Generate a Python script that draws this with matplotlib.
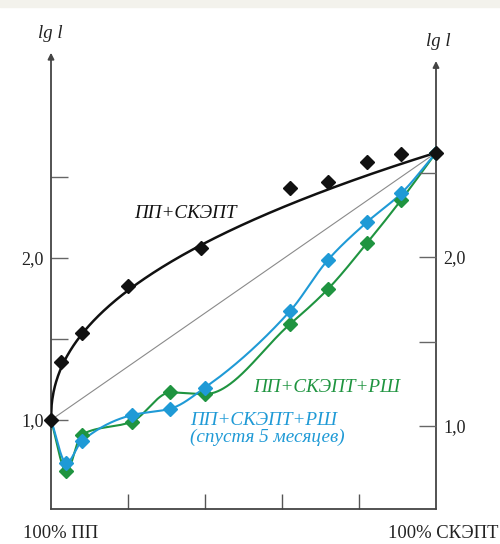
import numpy as np
import matplotlib
matplotlib.use("Agg")
import matplotlib.pyplot as plt
from matplotlib.patches import Rectangle

plt.rcParams['font.family'] = ['Liberation Serif', 'DejaVu Serif']

# ---- data (x: % SKEPT in blend, y: lg l) ----
x_black = [0, 2.6, 8, 20, 39, 62, 72, 82, 91, 100]
y_black = [1.0, 1.36, 1.54, 1.83, 2.06, 2.43, 2.47, 2.59, 2.64, 2.65]

x_blue = [0, 4, 8, 21, 31, 40, 62, 72, 82, 91, 100]
y_blue = [1.0, 0.735, 0.87, 1.03, 1.07, 1.20, 1.67, 1.99, 2.22, 2.40, 2.65]

x_green = [0, 4, 8, 21, 31, 40, 62, 72, 82, 91, 100]
y_green = [1.0, 0.685, 0.91, 0.99, 1.17, 1.16, 1.59, 1.81, 2.09, 2.36, 2.65]

black_curve_exponent = 0.45

left_ticks = [1.0, 1.5, 2.0, 2.5]
left_ticklabels = ['1,0', '', '2,0', '']
right_ticks = [1.0, 1.5, 2.0, 2.5]
right_ticklabels = ['1,0', '', '2,0', '']
x_ticks = [20, 40, 60, 80]

label_black = 'ПП+СКЭПТ'
label_green = 'ПП+СКЭПТ+РШ'
label_blue = 'ПП+СКЭПТ+РШ\n(спустя 5 месяцев)'

C_BLACK = '#111111'
C_BLUE = '#1f9ad6'
C_GREEN = '#1f9440'


def pchip(x, y, xs):
    x = np.asarray(x, float); y = np.asarray(y, float)
    n = len(x); h = np.diff(x); delta = np.diff(y) / h
    d = np.zeros(n)
    for k in range(1, n - 1):
        if delta[k - 1] * delta[k] > 0:
            w1 = 2 * h[k] + h[k - 1]
            w2 = h[k] + 2 * h[k - 1]
            d[k] = (w1 + w2) / (w1 / delta[k - 1] + w2 / delta[k])
        else:
            d[k] = 0.0
    d[0] = delta[0]
    d[-1] = delta[-1]
    idx = np.clip(np.searchsorted(x, xs) - 1, 0, n - 2)
    t = (xs - x[idx]) / h[idx]
    h00 = 2 * t ** 3 - 3 * t ** 2 + 1
    h10 = t ** 3 - 2 * t ** 2 + t
    h01 = -2 * t ** 3 + 3 * t ** 2
    h11 = t ** 3 - t ** 2
    return h00 * y[idx] + h10 * h[idx] * d[idx] + h01 * y[idx + 1] + h11 * h[idx] * d[idx + 1]


W, H = 500, 544
fig = plt.figure(figsize=(W / 100, H / 100), dpi=100)
fig.patches.append(Rectangle((0, 1 - 7 / H), 1, 7 / H, transform=fig.transFigure,
                             color='#f3f2ec', zorder=0))

ax_l, ax_r, ax_b, ax_t = 51, 436, 509, 55
ax = fig.add_axes([ax_l / W, 1 - ax_b / H, (ax_r - ax_l) / W, (ax_b - ax_t) / H])
ax.set_xlim(0, 100)
ax.set_ylim(1 - 89 / 162, 1 + 365 / 162)

ax2 = ax.twinx()
ax2.set_ylim(1 - 83 / 169, 2 + 202 / 169)

for a in (ax, ax2):
    for s in a.spines.values():
        s.set_visible(False)
ax.spines['bottom'].set_visible(True)
ax.spines['bottom'].set_color('#444444')
ax.spines['bottom'].set_linewidth(1.3)

axis_col = '#444444'
ax.annotate('', xy=(0, 1.005), xytext=(0, 0), xycoords='axes fraction',
            arrowprops=dict(arrowstyle='-|>', color=axis_col, lw=1.3,
                            mutation_scale=9, shrinkA=0, shrinkB=0))
ax.annotate('', xy=(1, (ax_b - 61) / (ax_b - ax_t)), xytext=(1, 0), xycoords='axes fraction',
            arrowprops=dict(arrowstyle='-|>', color=axis_col, lw=1.3,
                            mutation_scale=9, shrinkA=0, shrinkB=0))

ax.set_xticks(x_ticks)
ax.set_xticklabels([])
ax.tick_params(axis='x', direction='in', length=11, width=1.0, color='#555555')
ax.set_yticks(left_ticks)
ax.set_yticklabels(left_ticklabels)
ax.tick_params(axis='y', direction='in', length=12, width=1.0, color='#666666',
               labelsize=13, pad=5, labelcolor='#222222')
ax2.set_yticks(right_ticks)
ax2.set_yticklabels(right_ticklabels)
ax2.tick_params(axis='y', direction='in', length=12, width=1.0, color='#666666',
                labelsize=13, pad=5, labelcolor='#222222')

# thin reference diagonal
ax.plot([x_black[0], x_black[-1]], [y_black[0], y_black[-1]], color='#8a8a8a', lw=0.8, zorder=2)

# black trend curve y = y0 + (yend - y0) * (x/100)^p
y0, y1 = y_black[0], y_black[-1]
xs = np.linspace(0, 100, 600)
ax.plot(xs, y0 + (y1 - y0) * (xs / 100) ** black_curve_exponent, color=C_BLACK, lw=1.8, zorder=3)
ax.plot(x_black, y_black, 'D', color=C_BLACK, ms=7, zorder=5, clip_on=False)

xs2 = np.linspace(0, 100, 800)
ax.plot(xs2, pchip(x_green, y_green, xs2), color=C_GREEN, lw=1.5, zorder=3)
ax.plot(xs2, pchip(x_blue, y_blue, xs2), color=C_BLUE, lw=1.5, zorder=3)
ax.plot(x_green[1:], y_green[1:], 'D', color=C_GREEN, ms=7, zorder=4)
ax.plot(x_blue[1:], y_blue[1:], 'D', color=C_BLUE, ms=7, zorder=4)


def ftext(x, y, s, **kw):
    fig.text(x / W, 1 - y / H, s, **kw)


ftext(185, 213, label_black, color=C_BLACK, fontsize=13.8, style='italic', ha='center', va='center')
ftext(253, 387, label_green, color=C_GREEN, fontsize=13.8, style='italic', ha='left', va='center')
ftext(190, 429, label_blue, color=C_BLUE, fontsize=13.8, style='italic', ha='left', va='center',
      linespacing=1.0)
ftext(50, 33, 'lg l', color='#222222', fontsize=13.5, style='italic', ha='center', va='center')
ftext(438, 42, 'lg l', color='#222222', fontsize=13.5, style='italic', ha='center', va='center')
ftext(23, 533, '100% ПП', color='#222222', fontsize=13.4, ha='left', va='center')
ftext(498, 533, '100% СКЭПТ', color='#222222', fontsize=13.4, ha='right', va='center')

fig.savefig('out.png', dpi=100)
